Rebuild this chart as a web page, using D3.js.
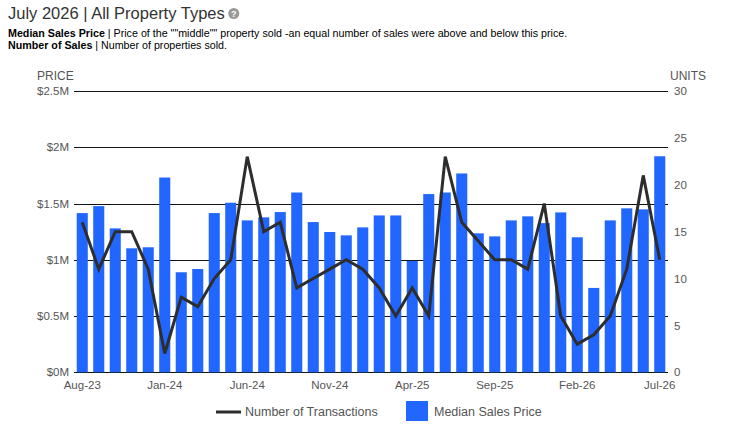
<!DOCTYPE html>
<html>
<head>
<meta charset="utf-8">
<script src="https://cdn.jsdelivr.net/npm/d3@7"></script>
<style>
  body { margin: 0; background: #fff; font-family: "Liberation Sans", Arial, sans-serif; }
  svg text { font-family: "Liberation Sans", Arial, sans-serif; }
</style>
</head>
<body>
<svg id="chart" width="748" height="446"></svg>
<script>
// ====== Datos ======
const months = [
  "Aug-23","Sep-23","Oct-23","Nov-23","Dec-23",
  "Jan-24","Feb-24","Mar-24","Apr-24","May-24","Jun-24","Jul-24","Aug-24","Sep-24","Oct-24","Nov-24","Dec-24",
  "Jan-25","Feb-25","Mar-25","Apr-25","May-25","Jun-25","Jul-25","Aug-25","Sep-25","Oct-25","Nov-25","Dec-25",
  "Jan-26","Feb-26","Mar-26","Apr-26","May-26","Jun-26","Jul-26"
];

// Precio mediano (USD)
const medianPrice = [
  1415000, 1477000, 1279000, 1102000, 1111000,
  1731000, 889000, 918000, 1415000, 1507000, 1350000, 1377000, 1424000, 1598000, 1335000, 1247000, 1217000,
  1288000, 1394000, 1394000, 990000, 1584000, 1598000, 1767000, 1235000, 1208000, 1350000, 1386000, 1326000,
  1421000, 1200000, 750000, 1350000, 1457000, 1448000, 1920000
];

// Cantidad de transacciones
const transactions = [
  16, 11, 15, 15, 11,
  2, 8, 7, 10, 12, 23, 15, 16, 9, 10, 11, 12,
  11, 9, 6, 9, 6, 23, 16, 14, 12, 12, 11, 18,
  6, 3, 4, 6, 11, 21, 12
];

const priceTicks = [0, 500000, 1000000, 1500000, 2000000, 2500000];
const priceTickLabels = ["$0M", "$0.5M", "$1M", "$1.5M", "$2M", "$2.5M"];
const unitTicks = [0, 5, 10, 15, 20, 25, 30];
const xTickLabels = ["Aug-23", "Jan-24", "Jun-24", "Nov-24", "Apr-25", "Sep-25", "Feb-26", "Jul-26"];

// ====== Layout ======
const svg = d3.select("#chart");
const plotLeft = 74, plotRight = 668, plotTop = 91, plotBottom = 372.3;
const BLUE = "#2166ff";
const GRAY = "#555";

const x = d3.scaleBand().domain(months).range([plotLeft, plotRight]).paddingInner(0.33).paddingOuter(0.165);
const yPrice = d3.scaleLinear().domain([0, 2500000]).range([plotBottom, plotTop]);
const yUnits = d3.scaleLinear().domain([0, 30]).range([plotBottom, plotTop]);

// Título
const title = svg.append("text")
  .attr("x", 8).attr("y", 19)
  .attr("font-size", 16.5).attr("fill", "#333")
  .text("July 2026 | All Property Types");

// icono "?" justo después del título
const titleEnd = 8 + title.node().getComputedTextLength();
const help = svg.append("g").attr("transform", `translate(${titleEnd + 9},13.5)`);
help.append("circle").attr("r", 5.5).attr("fill", "#999");
help.append("text").attr("text-anchor", "middle").attr("y", 3.5)
  .attr("font-size", 9).attr("font-weight", "bold").attr("fill", "#fff").text("?");

const sub1 = svg.append("text").attr("x", 8).attr("y", 37).attr("font-size", 10.7).attr("fill", "#000");
sub1.append("tspan").attr("font-weight", "bold").text("Median Sales Price");
sub1.append("tspan").text(" | Price of the \"\"middle\"\" property sold -an equal number of sales were above and below this price.");

const sub2 = svg.append("text").attr("x", 8).attr("y", 49).attr("font-size", 10.7).attr("fill", "#000");
sub2.append("tspan").attr("font-weight", "bold").text("Number of Sales");
sub2.append("tspan").text(" | Number of properties sold.");

// Títulos de ejes
svg.append("text").attr("x", 37).attr("y", 80).attr("font-size", 12).attr("fill", GRAY).text("PRICE");
svg.append("text").attr("x", 670).attr("y", 80).attr("font-size", 12).attr("fill", GRAY).text("UNITS");

// Grilla
svg.append("g")
  .selectAll("line")
  .data(priceTicks)
  .join("line")
  .attr("x1", plotLeft).attr("x2", plotRight)
  .attr("y1", d => Math.round(yPrice(d)) + 0.5)
  .attr("y2", d => Math.round(yPrice(d)) + 0.5)
  .attr("stroke", "#111").attr("stroke-width", 1);

// Eje izquierdo
const axisL = svg.append("g")
  .attr("transform", `translate(${plotLeft},0)`)
  .call(d3.axisLeft(yPrice).tickValues(priceTicks).tickSize(0).tickPadding(5)
    .tickFormat((d, i) => priceTickLabels[i]));
axisL.select(".domain").remove();
axisL.selectAll("text").attr("font-size", 11.5).attr("fill", GRAY).attr("font-family", null);

// Eje derecho
const axisR = svg.append("g")
  .attr("transform", `translate(${plotRight},0)`)
  .call(d3.axisRight(yUnits).tickValues(unitTicks).tickSize(0).tickPadding(6));
axisR.select(".domain").remove();
axisR.selectAll("text").attr("font-size", 11.5).attr("fill", GRAY).attr("font-family", null);

// Barras
svg.append("g")
  .selectAll("rect")
  .data(medianPrice)
  .join("rect")
  .attr("x", (d, i) => x(months[i]))
  .attr("width", x.bandwidth())
  .attr("y", d => yPrice(d))
  .attr("height", d => yPrice(0) - yPrice(d))
  .attr("fill", BLUE);

// Línea
const line = d3.line()
  .x((d, i) => x(months[i]) + x.bandwidth() / 2)
  .y(d => yUnits(d));

svg.append("path")
  .datum(transactions)
  .attr("d", line)
  .attr("fill", "none")
  .attr("stroke", "#2d2d2d")
  .attr("stroke-width", 3)
  .attr("stroke-linejoin", "miter");

// Eje X
const axisB = svg.append("g")
  .attr("transform", `translate(0,${plotBottom})`)
  .call(d3.axisBottom(x).tickValues(xTickLabels).tickSize(0).tickPadding(9));
axisB.select(".domain").remove();
axisB.selectAll("text").attr("font-size", 11.5).attr("fill", GRAY).attr("font-family", null);

// Leyenda
const legend = svg.append("g");
legend.append("line").attr("x1", 216).attr("x2", 241).attr("y1", 412).attr("y2", 412)
  .attr("stroke", "#2d2d2d").attr("stroke-width", 3);
legend.append("text").attr("x", 245).attr("y", 416).attr("font-size", 12.5).attr("fill", GRAY)
  .text("Number of Transactions");
legend.append("rect").attr("x", 406).attr("y", 401).attr("width", 22).attr("height", 20).attr("fill", BLUE);
legend.append("text").attr("x", 434).attr("y", 416).attr("font-size", 12.5).attr("fill", GRAY)
  .text("Median Sales Price");
</script>
</body>
</html>
